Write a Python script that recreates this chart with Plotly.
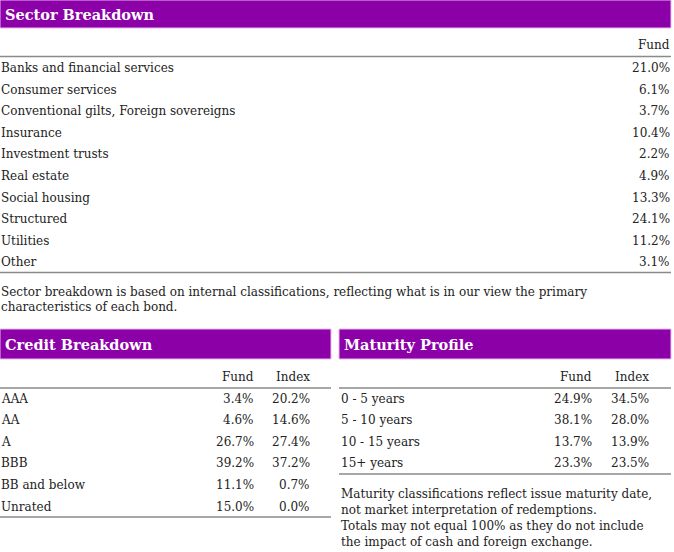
import plotly.graph_objects as go

# ---- data ----
sector_names = ["Banks and financial services", "Consumer services",
                "Conventional gilts, Foreign sovereigns", "Insurance",
                "Investment trusts", "Real estate", "Social housing",
                "Structured", "Utilities", "Other"]
sector_fund = [21.0, 6.1, 3.7, 10.4, 2.2, 4.9, 13.3, 24.1, 11.2, 3.1]

credit_names = ["AAA", "AA", "A", "BBB", "BB and below", "Unrated"]
credit_fund = [3.4, 4.6, 26.7, 39.2, 11.1, 15.0]
credit_index = [20.2, 14.6, 27.4, 37.2, 0.7, 0.0]

maturity_names = ["0 - 5 years", "5 - 10 years", "10 - 15 years", "15+ years"]
maturity_fund = [24.9, 38.1, 13.7, 23.3]
maturity_index = [34.5, 28.0, 13.9, 23.5]

sector_note = ["Sector breakdown is based on internal classifications, reflecting what is in our view the primary",
               "characteristics of each bond."]
maturity_note = ["Maturity classifications reflect issue maturity date,",
                 "not market interpretation of redemptions.",
                 "Totals may not equal 100% as they do not include",
                 "the impact of cash and foreign exchange."]

PURPLE = "#8c00a8"
TXT = "#222222"
LINE = "#8a8a8a"
FONT = "DejaVu Serif"
FS = 12
ROW = 21.6

fig = go.Figure()
shapes = []
ann = []


def text(x, y, s, anchor="left", size=FS, color=TXT, bold=False):
    if bold:
        s = "<b>" + s + "</b>"
    ann.append(dict(x=x, y=y, text=s, xref="x", yref="y", showarrow=False,
                    xanchor=anchor, yanchor="middle", borderpad=0,
                    font=dict(family=FONT, size=size, color=color)))


def bar(x0, x1, y0, y1, title):
    shapes.append(dict(type="rect", xref="x", yref="y", x0=x0, x1=x1, y0=y0, y1=y1,
                       fillcolor=PURPLE, line=dict(color="#e9b8f0", width=1)))
    text(x0 + 4, (y0 + y1) / 2, title, size=14.5, color="white", bold=True)


def hline(x0, x1, y):
    shapes.append(dict(type="line", xref="x", yref="y", x0=x0, x1=x1, y0=y, y1=y,
                       line=dict(color=LINE, width=1.5)))


# Sector breakdown
bar(0, 671, 0, 28, "Sector Breakdown")
text(671, 45, "Fund", anchor="right")
hline(0, 671, 56.5)
for i, (n, v) in enumerate(zip(sector_names, sector_fund)):
    y = 68 + i * ROW
    text(0, y, n)
    text(671, y, f"{v:.1f}%", anchor="right")
hline(0, 671, 272.5)
for i, s in enumerate(sector_note):
    text(0, 292 + i * 15, s)

# Credit breakdown
bar(0, 331, 329, 359, "Credit Breakdown")
text(255, 377, "Fund", anchor="right")
text(311, 377, "Index", anchor="right")
hline(0, 331, 388)
for i, (n, f, ix) in enumerate(zip(credit_names, credit_fund, credit_index)):
    y = 398.5 + i * ROW
    text(0, y, n)
    text(255, y, f"{f:.1f}%", anchor="right")
    text(311, y, f"{ix:.1f}%", anchor="right")
hline(0, 331, 517)

# Maturity profile
bar(339, 671, 329, 359, "Maturity Profile")
text(593, 377, "Fund", anchor="right")
text(650, 377, "Index", anchor="right")
hline(339, 671, 388)
for i, (n, f, ix) in enumerate(zip(maturity_names, maturity_fund, maturity_index)):
    y = 398.5 + i * ROW
    text(340, y, n)
    text(593, y, f"{f:.1f}%", anchor="right")
    text(650, y, f"{ix:.1f}%", anchor="right")
hline(339, 671, 474)
for i, s in enumerate(maturity_note):
    text(340, 494 + i * 16, s)

fig.update_layout(
    width=674, height=552,
    margin=dict(l=0, r=0, t=0, b=0),
    plot_bgcolor="white", paper_bgcolor="white",
    xaxis=dict(range=[0, 674], visible=False, fixedrange=True),
    yaxis=dict(range=[552, 0], visible=False, fixedrange=True),
    shapes=shapes, annotations=ann, showlegend=False,
)

# drop the default page margin so the figure sits at the window's corner
fig.write_html("out.html", config={"displayModeBar": False},
               post_script="document.body.style.margin='0px';")
